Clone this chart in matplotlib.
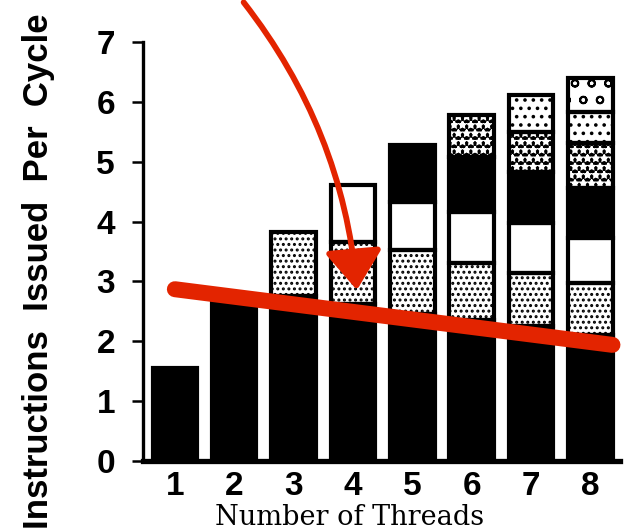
import matplotlib
matplotlib.use("Agg")
import matplotlib.pyplot as plt
import numpy as np
from matplotlib.patches import FancyArrowPatch

# instructions issued per cycle, split by thread priority (bottom layer first)
threads = [1, 2, 3, 4, 5, 6, 7, 8]
layer_base = [1.55, 2.75, 2.75, 2.62, 2.45, 2.35, 2.25, 2.10]
layer_speckle = [0, 0, 1.08, 1.04, 1.07, 0.96, 0.89, 0.87]
layer_white = [0, 0, 0, 0.95, 0.81, 0.85, 0.84, 0.76]
layer_dark = [0, 0, 0, 0, 0.95, 0.92, 0.85, 0.83]
layer_cross = [0, 0, 0, 0, 0, 0.70, 0.67, 0.75]
layer_light = [0, 0, 0, 0, 0, 0, 0.61, 0.52]
layer_dots = [0, 0, 0, 0, 0, 0, 0, 0.57]

# red overlay: trend line and pointer (data coordinates)
trend_x = [1.0, 8.37]
trend_y = [2.87, 1.94]
arrow_start = (2.13, 7.70)
arrow_end = (4.07, 2.81)

RED = "#e32400"

# (values, face, hatch, hatch colour)
layers = [
    (layer_base, "black", None, None),
    (layer_speckle, "white", "...", "black"),
    (layer_white, "white", None, None),
    (layer_dark, "black", None, None),
    (layer_cross, "black", "**", "white"),
    (layer_light, "white", "..", "black"),
    (layer_dots, "white", "o", "black"),
]

plt.rcParams["hatch.linewidth"] = 1.4

fig = plt.figure(figsize=(6.29, 5.32), dpi=100)
ax = fig.add_axes([0.227, 0.1335, 0.759, 0.7875])

x = np.array(threads, dtype=float)
width = 0.75
bottom = np.zeros(len(threads))
for vals, face, hatch, hcol in layers:
    vals = np.array(vals, dtype=float)
    m = vals > 0
    if hatch:
        ax.bar(x[m], vals[m], width, bottom=bottom[m], color=face,
               edgecolor=hcol, hatch=hatch, linewidth=0, zorder=2)
    else:
        ax.bar(x[m], vals[m], width, bottom=bottom[m], color=face,
               linewidth=0, zorder=2)
    ax.bar(x[m], vals[m], width, bottom=bottom[m], fill=False,
           edgecolor="black", linewidth=3.0, zorder=3)
    bottom += vals

ax.set_xlim(0.46, 8.5)
ax.set_ylim(0, 7)
ax.set_yticks(range(0, 8))
ax.set_xticks(threads)

for s in ("top", "right"):
    ax.spines[s].set_visible(False)
ax.spines["left"].set_linewidth(2.4)
ax.spines["bottom"].set_linewidth(3.8)
ax.spines["bottom"].set_zorder(4)

tick_font = {"family": "Liberation Sans", "weight": "bold", "size": 24}
ax.tick_params(axis="y", direction="out", length=8, width=1.8, pad=12)
ax.tick_params(axis="x", length=0, pad=7)
ax.set_yticklabels([str(v) for v in range(0, 8)], fontdict=tick_font)
ax.set_xticklabels([str(t) for t in threads], fontdict=tick_font)

ax.set_xlabel("Number of Threads", family="DejaVu Serif", size=19.5)
ax.xaxis.set_label_coords(0.434, -0.103)
fig.text(0.062, 0.49, "Instructions  Issued  Per  Cycle", rotation=90,
         ha="center", va="center", family="Liberation Sans",
         weight="bold", size=25)

# red overlay
ax.plot(trend_x, trend_y, color=RED, linewidth=11.5,
        solid_capstyle="round", clip_on=False, zorder=6)
arr = FancyArrowPatch(arrow_start, arrow_end,
                      connectionstyle="arc3,rad=-0.15",
                      arrowstyle="-|>,head_length=1.1,head_width=0.8",
                      mutation_scale=22, color=RED, linewidth=4.2,
                      clip_on=False, zorder=7)
ax.add_patch(arr)

fig.savefig("out.png", dpi=100)
